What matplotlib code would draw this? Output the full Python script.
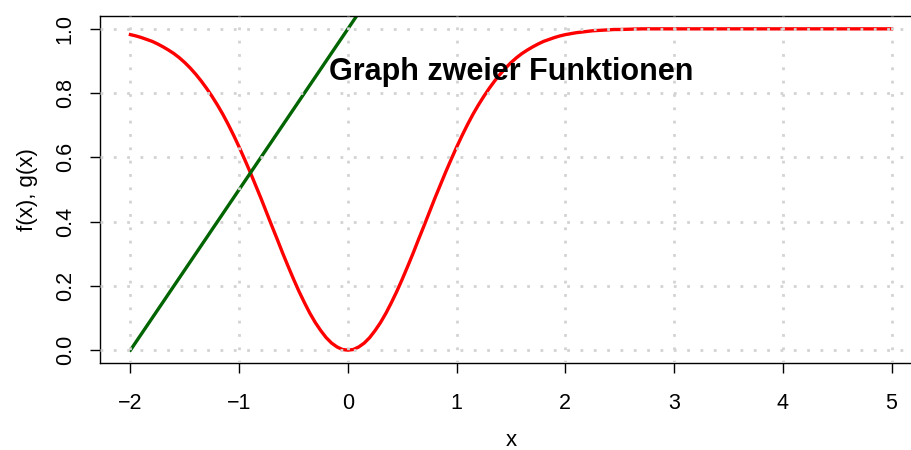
import matplotlib.pyplot as plt
import numpy as np

plt.rcParams['font.family'] = ['Liberation Sans', 'DejaVu Sans']

# f(x) (fine steps up to 2.5, then flat near 1)
f_half = [0.000, 0.002, 0.010, 0.022, 0.039, 0.061, 0.086, 0.115, 0.148, 0.183,
          0.221, 0.261, 0.302, 0.345, 0.387, 0.430, 0.473, 0.514, 0.555, 0.594,
          0.632, 0.668, 0.702, 0.734, 0.763, 0.790, 0.815, 0.838, 0.859, 0.878,
          0.895, 0.910, 0.923, 0.934, 0.944, 0.953, 0.961, 0.967, 0.973, 0.978,
          0.982]
f_tail = [0.985, 0.988, 0.990, 0.992, 0.994, 0.995, 0.996, 0.997, 0.998, 0.998]
f_flat = [0.999, 1.0, 1.0, 1.0, 1.0, 1.0, 1.0, 1.0, 1.0, 1.0, 1.0, 1.0,
          1.0, 1.0, 1.0, 1.0, 1.0, 1.0, 1.0, 1.0, 1.0, 1.0, 1.0, 1.0, 1.0]

fx = list(np.round(np.arange(-2.0, 2.501, 0.05), 2)) + \
    list(np.round(np.arange(2.6, 5.001, 0.1), 1))
fy = f_half[::-1] + f_half[1:] + f_tail + f_flat

# g(x), the green straight line
gx = [-2, -1, 0, 1]
gy = [0.0, 0.5, 1.0, 1.5]

xticks = [-2, -1, 0, 1, 2, 3, 4, 5]
yticks = [0.0, 0.2, 0.4, 0.6, 0.8, 1.0]

fig = plt.figure(figsize=(9.11, 4.5), dpi=100)
ax = fig.add_axes([100 / 911, 87 / 450, 822 / 911, 347 / 450])

ax.plot(fx, fy, color='red', lw=2.4, zorder=2)
ax.plot(gx, gy, color='#006400', lw=2.4, zorder=2)

ax.set_xlim(-2.28, 5.28)
ax.set_ylim(-0.04, 1.04)

# R-style dotted grid drawn over the curves
for xv in xticks:
    ax.axvline(xv, color='#D3D3D3', lw=2.0, ls=(0, (1, 3.8)), zorder=3)
for yv in yticks:
    ax.axhline(yv, color='#D3D3D3', lw=2.0, ls=(0, (1, 3.8)), zorder=3)

ax.set_xticks(xticks)
ax.set_xticklabels(['\u22122', '\u22121', '0', '1', '2', '3', '4', '5'])
ax.set_yticks(yticks)
ax.set_yticklabels(['0.0', '0.2', '0.4', '0.6', '0.8', '1.0'],
                   rotation=90, va='center')
ax.tick_params(axis='x', length=7.5, width=1, pad=14, labelsize=15.5)
ax.tick_params(axis='y', length=7.5, width=1, pad=10, labelsize=15.5)
for s in ax.spines.values():
    s.set_linewidth(1)

fig.text(27 / 911, 1 - 190 / 450, 'f(x), g(x)', rotation=90,
         ha='center', va='center', fontsize=16)
fig.text(511 / 911, 1 - 441 / 450, 'x', ha='center', va='center',
         fontsize=16)
fig.text(511 / 911, 1 - 80 / 450, 'Graph zweier Funktionen',
         ha='center', va='baseline', fontsize=22, fontweight='bold')

fig.savefig('out.png', dpi=100)
